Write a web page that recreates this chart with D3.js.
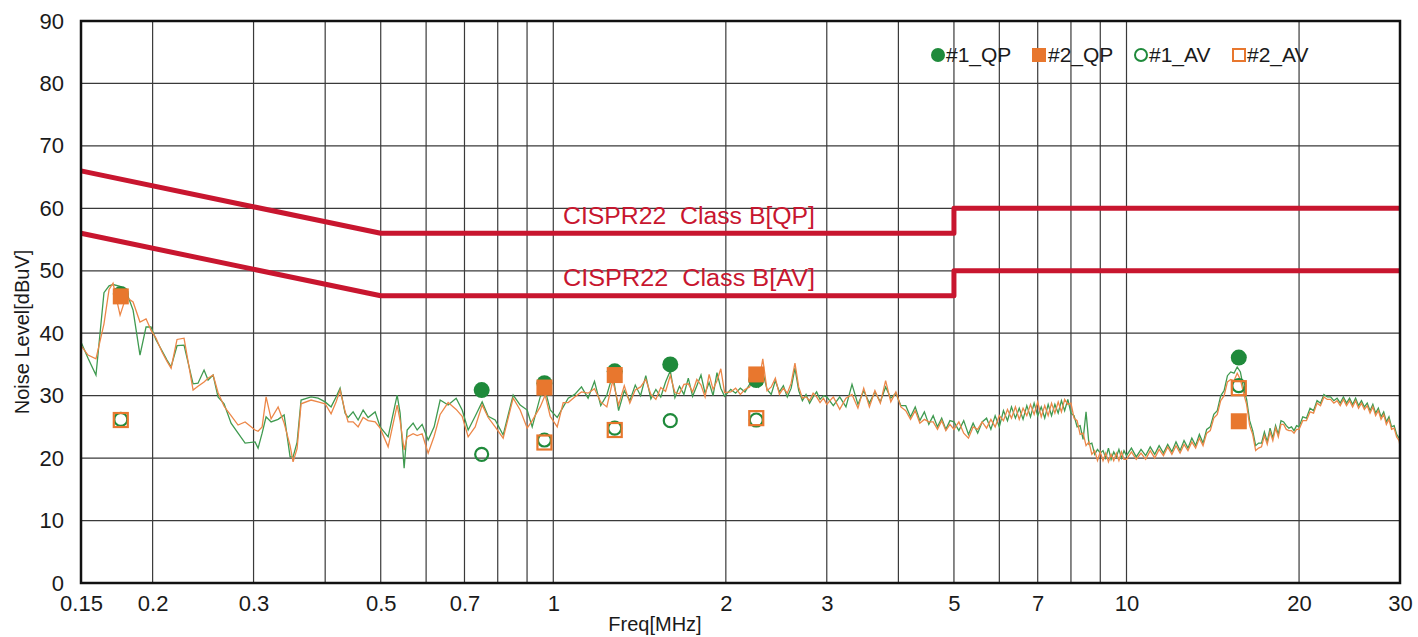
<!DOCTYPE html>
<html>
<head>
<meta charset="utf-8">
<script src="https://cdn.jsdelivr.net/npm/d3@7"></script>
<style>
  body { margin: 0; background: #fff; }
  svg { display: block; font-family: "Liberation Sans", Arial, sans-serif; }
</style>
</head>
<body>
<svg id="chart" width="1418" height="637"></svg>
<script>
// sweep frequencies [MHz] shared by both traces
var freqs = [
  0.150,0.1543,0.1593,0.1645,0.1679,0.1706,0.1755,0.1797,0.1849,0.1901,0.1948,0.1987,0.2028,0.2077,0.2119,0.2154,0.2206,0.2269,0.2353,0.2400,0.2459,0.2499,0.2550,0.2601,0.2665,0.2741,0.2819,0.2900,0.3018,0.3055,0.3105,0.3155,0.3219,0.3311,0.3392,0.3474,0.3516,0.3573,0.3631,0.3780,0.3888,0.3999,0.4096,0.4179,
  0.4247,0.4333,0.4386,0.4475,0.4566,0.4659,0.4753,0.4889,0.4988,0.5151,0.5341,0.5405,0.5493,0.5560,0.5695,0.5788,0.5905,0.6049,0.6197,0.6348,0.6555,0.6770,0.6935,0.7104,0.7307,0.7515,0.7699,0.7918,0.8177,0.8512,0.8755,0.9005,0.9188,0.9488,0.9680,0.9877,1.0159,1.0407,1.0618,
  1.09,1.12,1.15,1.18,1.21,1.24,1.27,1.30,1.33,1.36,1.39,1.42,1.45,1.48,1.51,1.54,1.57,1.60,1.63,1.66,1.69,1.72,1.75,1.78,1.81,1.84,1.87,1.90,1.93,1.96,1.99,
  2.04,2.08,2.12,2.16,2.20,2.24,2.28,2.32,2.36,2.40,2.44,2.48,2.52,2.56,2.60,2.64,2.68,2.72,2.76,2.80,2.84,2.88,2.92,2.96,
  3.00,3.08,3.16,3.24,3.32,3.40,3.48,3.56,3.64,3.72,3.80,3.88,3.96,4.04,4.12,4.20,4.28,4.36,4.44,4.52,4.60,4.68,4.76,4.84,4.92,
  5.0,5.1,5.2,5.3,5.4,5.5,5.6,5.7,5.8,5.9,6.0,6.1,6.2,6.3,6.4,6.5,6.6,6.7,6.8,6.9,7.0,7.1,7.2,7.3,7.4,7.5,7.6,7.7,7.8,7.9,8.0,8.1,8.2,8.3,8.4,8.5,8.6,8.7,8.8,8.9,9.0,9.1,9.2,9.3,9.4,9.5,9.6,9.7,9.8,9.9,
  10.0,10.2,10.4,10.6,10.8,11.0,11.2,11.4,11.6,11.8,12.0,12.2,12.4,12.6,12.8,13.0,13.2,13.4,13.6,13.8,14.0,14.2,14.4,14.6,14.8,15.0,15.2,15.4,15.6,15.8,16.0,16.2,16.4,16.6,16.8,17.0,17.2,17.4,17.6,17.8,18.0,18.2,18.4,18.6,18.8,19.0,19.2,19.4,19.6,19.8,
  20.0,20.3,20.6,20.9,21.2,21.5,21.8,22.1,22.4,22.7,23.0,23.3,23.6,23.9,24.2,24.5,24.8,25.1,25.4,25.7,26.0,26.3,26.6,26.9,27.2,27.5,27.8,28.1,28.4,28.7,29.0,29.3,29.6,29.9,30.0
];

// #1 trace (green) [dBuV]
var level1 = [
  38.6,36.0,33.3,46.5,47.6,47.8,47.5,46.8,43.7,36.5,41.0,41.0,38.9,37.2,35.7,34.6,38.0,38.1,31.9,32.0,34.1,32.5,33.3,29.8,28.7,25.6,24.0,22.4,22.6,21.6,24.0,26.6,25.8,26.2,26.9,20.2,20.2,22.5,29.3,29.8,29.6,29.0,28.2,29.8,
  31.2,27.2,26.5,27.4,26.1,27.7,26.5,27.4,25.0,23.4,30.1,27.2,18.4,24.5,25.6,24.5,25.4,22.9,25.0,29.3,28.5,29.6,27.7,24.5,26.7,29.0,26.7,26.1,23.7,30.1,28.5,27.7,25.0,29.8,30.9,27.7,26.5,28.2,29.6,
  30.2,31.4,29.6,32.3,28.4,30.1,33.4,27.6,30.8,29.2,31.7,30.0,33.2,29.5,31.0,29.8,32.2,34.0,29.7,31.5,30.2,32.8,29.9,31.6,33.3,30.4,32.1,30.0,33.7,31.2,29.9,
  31.0,30.4,31.2,30.6,31.8,32.6,31.4,33.8,31.0,30.2,32.4,30.6,31.6,29.8,31.2,34.4,30.8,29.2,30.2,28.8,29.8,30.6,29.4,30.0,
  29.8,28.4,29.8,28.2,31.8,28.6,30.8,28.8,30.6,29.0,31.4,29.6,30.4,28.4,28.4,26.6,28.2,26.0,27.4,25.4,26.8,25.0,26.4,24.6,26.0,
  25.8,24.4,26.0,23.8,25.6,24.0,25.8,26.4,24.6,26.8,25.0,27.6,26.0,28.2,26.4,28.0,26.2,28.4,26.6,28.8,26.8,28.2,26.4,28.6,26.8,28.6,27.2,29.2,27.6,29.4,27.2,26.8,25.0,25.2,23.0,27.4,22.2,22.4,20.6,21.4,20.8,21.2,20.0,21.6,19.8,21.0,20.2,21.4,20.0,21.2,
  20.4,21.6,20.2,21.4,20.4,21.8,20.6,22.0,20.8,22.2,21.0,22.6,21.2,22.8,21.6,23.2,22.0,23.8,22.4,24.6,25.0,27.0,27.6,30.0,30.8,33.2,33.8,33.6,34.6,33.8,31.2,29.4,26.0,24.4,22.0,22.4,22.4,24.2,22.6,24.8,23.2,25.2,23.8,26.0,25.8,25.2,24.8,25.0,24.4,25.2,
  25.0,26.6,26.4,28.0,27.6,29.2,28.8,30.2,29.8,29.8,29.2,29.6,28.8,29.8,28.8,29.6,28.6,29.6,28.4,29.2,28.2,28.8,27.6,28.6,27.2,28.0,26.6,27.4,25.8,26.6,25.0,25.2,23.8,23.2,22.0
];

// #2 trace (orange) [dBuV]
var level2 = [
  38.0,36.5,35.9,41.5,47.0,48.0,42.9,45.8,45.0,41.8,42.3,40.5,39.2,37.0,35.5,34.4,39.0,39.2,30.9,31.5,32.2,32.8,33.3,30.5,28.3,26.8,25.3,25.8,24.5,24.3,25.0,29.8,26.3,28.2,25.6,22.0,19.4,21.5,28.7,29.3,29.0,28.7,27.1,29.0,
  30.9,27.5,25.8,25.8,25.0,26.5,26.0,25.8,24.8,21.8,28.5,26.0,21.3,23.4,23.9,23.6,23.9,20.8,23.5,27.0,28.9,27.8,26.7,23.4,25.0,28.5,26.5,25.0,23.2,29.6,27.7,24.8,26.0,28.2,30.1,26.7,25.0,28.9,28.9,
  29.8,30.6,30.4,31.1,29.0,28.2,32.4,28.5,31.6,28.8,30.9,31.4,32.6,30.2,29.4,31.3,30.7,33.2,30.5,30.3,31.8,31.9,30.6,32.6,31.7,29.8,33.4,31.0,32.4,34.3,30.5,
  30.6,31.2,30.2,31.0,31.4,33.0,31.8,35.9,30.8,31.4,32.8,30.2,31.2,30.4,32.0,35.2,31.4,29.6,29.8,29.2,30.4,29.8,28.9,29.6,
  28.6,29.8,27.8,29.6,30.2,28.0,31.2,28.2,30.8,28.8,32.4,29.0,30.6,28.2,27.6,26.2,27.6,25.6,26.2,25.8,25.8,24.6,26.0,24.4,25.4,
  24.6,25.8,24.0,23.2,25.0,24.6,25.8,24.8,26.2,25.0,26.8,26.0,27.8,26.4,28.2,26.2,28.0,26.8,28.6,27.0,29.0,26.6,28.4,26.8,28.8,27.2,29.0,27.4,29.4,28.6,28.8,26.4,26.0,23.8,24.0,22.0,22.6,20.6,21.2,19.6,21.0,19.6,20.8,19.4,20.6,19.6,20.8,19.6,21.0,19.8,
  19.8,21.0,19.8,20.8,19.8,21.2,20.0,21.4,20.4,21.8,20.6,22.0,20.8,22.2,21.2,22.6,21.6,23.2,22.0,24.0,24.4,26.4,27.0,29.2,30.0,32.2,32.6,32.4,33.6,32.6,30.4,28.6,25.2,23.8,21.2,21.6,21.8,23.6,22.2,24.2,22.8,24.8,23.4,25.4,25.4,24.6,24.4,24.4,24.0,24.6,
  24.6,26.0,26.0,27.4,27.2,28.8,28.4,29.8,29.4,29.4,28.8,29.2,28.4,29.4,28.4,29.2,28.2,29.2,28.0,28.8,27.8,28.4,27.2,28.2,26.8,27.6,26.2,27.0,25.4,26.2,24.6,24.8,23.4,22.8,21.8
];

// limit lines (CISPR22 class B)
var limitFreqs = [0.15, 0.5, 5, 5, 30];
var limitQP = [66, 56, 56, 60, 60];
var limitAV = [56, 46, 46, 50, 50];

// detector readings
var qp1Freqs = [0.176, 0.75, 0.965, 1.28, 1.60, 2.26, 15.7];
var qp1 = [46.3, 30.9, 32.0, 33.9, 35.0, 32.5, 36.1];
var qp2Freqs = [0.176, 0.965, 1.28, 2.26, 15.7];
var qp2 = [45.9, 31.3, 33.3, 33.4, 25.9];
var av1Freqs = [0.176, 0.75, 0.965, 1.28, 1.60, 2.26, 15.7];
var av1 = [26.2, 20.6, 22.9, 24.8, 26.0, 26.1, 31.6];
var av2Freqs = [0.176, 0.965, 1.28, 2.26, 15.7];
var av2 = [26.1, 22.5, 24.5, 26.4, 31.2];

var gridFreqs = [0.2, 0.3, 0.4, 0.5, 0.6, 0.7, 0.8, 0.9, 1, 2, 3, 4, 5, 6, 7, 8, 9, 10, 20];
var xTickValues = [0.15, 0.2, 0.3, 0.5, 0.7, 1, 2, 3, 5, 7, 10, 20, 30];
var xTickLabels = ["0.15", "0.2", "0.3", "0.5", "0.7", "1", "2", "3", "5", "7", "10", "20", "30"];
var yTickValues = [0, 10, 20, 30, 40, 50, 60, 70, 80, 90];

var GREEN = "#1f8a3b", ORANGE = "#e8772e", RED = "#c8162f";
var GREEN_LINE = "#3f9a50", ORANGE_LINE = "#ec8748";

var svg = d3.select("#chart");
var plotLeft = 81, plotRight = 1400, plotTop = 21, plotBottom = 583;

var x = d3.scaleLog().domain([0.15, 30]).range([plotLeft, plotRight]);
var y = d3.scaleLinear().domain([0, 90]).range([plotBottom, plotTop]);

// grid
var grid = svg.append("g");
grid.selectAll("line.v").data(gridFreqs).enter().append("line")
  .attr("x1", function(d) { return x(d); }).attr("x2", function(d) { return x(d); })
  .attr("y1", plotTop).attr("y2", plotBottom)
  .attr("stroke", "#3a3a3a").attr("stroke-width", 1.2);
grid.selectAll("line.h").data(yTickValues.slice(1, -1)).enter().append("line")
  .attr("x1", plotLeft).attr("x2", plotRight)
  .attr("y1", function(d) { return y(d); }).attr("y2", function(d) { return y(d); })
  .attr("stroke", "#3a3a3a").attr("stroke-width", 1.2);

// tick labels via d3 axes
var xAxis = d3.axisBottom(x).tickValues(xTickValues)
  .tickFormat(function(d, i) { return xTickLabels[i]; }).tickSize(0).tickPadding(12);
var gx = svg.append("g").attr("transform", "translate(0," + plotBottom + ")").call(xAxis);
gx.select(".domain").remove();
gx.selectAll("text").attr("font-size", 22).attr("fill", "#1a1a1a")
  .attr("font-family", "'Liberation Sans', Arial, sans-serif");

var yAxis = d3.axisLeft(y).tickValues(yTickValues).tickSize(0).tickPadding(17);
var gy = svg.append("g").attr("transform", "translate(" + plotLeft + ",0)").call(yAxis);
gy.select(".domain").remove();
gy.selectAll("text").attr("font-size", 22).attr("fill", "#1a1a1a")
  .attr("font-family", "'Liberation Sans', Arial, sans-serif");

// limit lines
var limitLine = d3.line()
  .x(function(d) { return x(d[0]); })
  .y(function(d) { return y(d[1]); });
[limitQP, limitAV].forEach(function(lim) {
  svg.append("path")
    .datum(d3.zip(limitFreqs, lim))
    .attr("d", limitLine)
    .attr("fill", "none").attr("stroke", RED).attr("stroke-width", 5)
    .attr("stroke-linejoin", "round");
});

svg.append("text").attr("x", 563).attr("y", 224)
  .attr("font-size", 23).attr("fill", RED)
  .attr("textLength", 252).attr("lengthAdjust", "spacingAndGlyphs")
  .attr("xml:space", "preserve").text("CISPR22  Class B[QP]");
svg.append("text").attr("x", 563).attr("y", 286)
  .attr("font-size", 23).attr("fill", RED)
  .attr("textLength", 252).attr("lengthAdjust", "spacingAndGlyphs")
  .attr("xml:space", "preserve").text("CISPR22  Class B[AV]");

// traces
var trace = d3.line()
  .x(function(d) { return x(d[0]); })
  .y(function(d) { return y(d[1]); });
svg.append("path").datum(d3.zip(freqs, level1)).attr("d", trace)
  .attr("fill", "none").attr("stroke", GREEN_LINE).attr("stroke-width", 1.3);
svg.append("path").datum(d3.zip(freqs, level2)).attr("d", trace)
  .attr("fill", "none").attr("stroke", ORANGE_LINE).attr("stroke-width", 1.3);

// markers
svg.append("g").selectAll("circle").data(d3.zip(qp1Freqs, qp1)).enter().append("circle")
  .attr("cx", function(d) { return x(d[0]); }).attr("cy", function(d) { return y(d[1]); })
  .attr("r", 8).attr("fill", GREEN);
svg.append("g").selectAll("rect").data(d3.zip(qp2Freqs, qp2)).enter().append("rect")
  .attr("x", function(d) { return x(d[0]) - 8; }).attr("y", function(d) { return y(d[1]) - 8; })
  .attr("width", 16).attr("height", 16).attr("fill", ORANGE);
svg.append("g").selectAll("circle").data(d3.zip(av1Freqs, av1)).enter().append("circle")
  .attr("cx", function(d) { return x(d[0]); }).attr("cy", function(d) { return y(d[1]); })
  .attr("r", 6.5).attr("fill", "none").attr("stroke", GREEN).attr("stroke-width", 2.2);
svg.append("g").selectAll("rect").data(d3.zip(av2Freqs, av2)).enter().append("rect")
  .attr("x", function(d) { return x(d[0]) - 7; }).attr("y", function(d) { return y(d[1]) - 7; })
  .attr("width", 14).attr("height", 14).attr("fill", "none")
  .attr("stroke", ORANGE).attr("stroke-width", 2.2);

// frame
svg.append("rect").attr("x", plotLeft).attr("y", plotTop)
  .attr("width", plotRight - plotLeft).attr("height", plotBottom - plotTop)
  .attr("fill", "none").attr("stroke", "#111").attr("stroke-width", 2.5);

// legend
var legend = svg.append("g").attr("font-size", 21).attr("fill", "#1a1a1a");
legend.append("circle").attr("cx", 938).attr("cy", 55).attr("r", 7).attr("fill", GREEN);
legend.append("text").attr("x", 946).attr("y", 62).text("#1_QP");
legend.append("rect").attr("x", 1032).attr("y", 48).attr("width", 14).attr("height", 14).attr("fill", ORANGE);
legend.append("text").attr("x", 1048).attr("y", 62).text("#2_QP");
legend.append("circle").attr("cx", 1141).attr("cy", 55).attr("r", 6).attr("fill", "none")
  .attr("stroke", GREEN).attr("stroke-width", 2);
legend.append("text").attr("x", 1149).attr("y", 62).text("#1_AV");
legend.append("rect").attr("x", 1233).attr("y", 49).attr("width", 12).attr("height", 12).attr("fill", "none")
  .attr("stroke", ORANGE).attr("stroke-width", 2);
legend.append("text").attr("x", 1247).attr("y", 62).text("#2_AV");

// axis titles
svg.append("text").attr("x", 655).attr("y", 631).attr("text-anchor", "middle")
  .attr("font-size", 20).attr("fill", "#1a1a1a").text("Freq[MHz]");
svg.append("text").attr("transform", "translate(29,332) rotate(-90)")
  .attr("text-anchor", "middle").attr("font-size", 20).attr("fill", "#1a1a1a")
  .text("Noise Level[dBuV]");
</script>
</body>
</html>
